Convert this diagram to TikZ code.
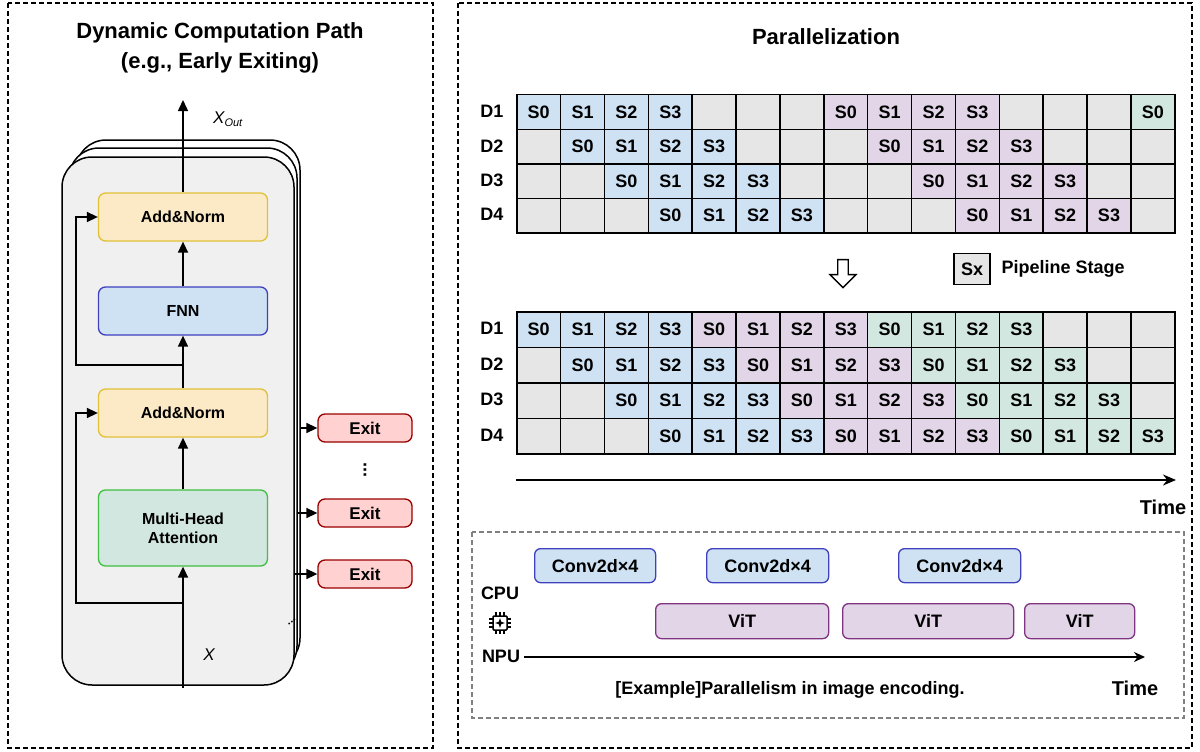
\documentclass[tikz,border=0pt]{standalone}
\usepackage{fontspec}
\setmainfont{Liberation Sans}
\usetikzlibrary{arrows.meta,shapes.arrows}
\definecolor{cblue}{HTML}{CFE2F3}
\definecolor{cpurp}{HTML}{E1D5E7}
\definecolor{cgreen}{HTML}{D2E7DF}
\definecolor{cgray}{HTML}{E6E6E6}
\definecolor{cyel}{HTML}{FCE9C6}
\tikzset{
 panel/.style={draw,dash pattern=on 5pt off 3pt,line width=1.6pt},
 blk/.style={draw,rounded corners=7pt,line width=1.3pt,font=\bfseries\fontsize{16}{19}\selectfont,align=center},
 cell/.style={draw,line width=1.5pt,minimum width=43.87pt,minimum height=34.5pt,inner sep=0,font=\bfseries\fontsize{18}{20}\selectfont,anchor=north west},
 arr/.style={-{Triangle[length=11pt,width=10pt]},line width=1.5pt},
 lbl/.style={font=\bfseries\fontsize{18}{20}\selectfont},
 tbox/.style={draw,rounded corners=6pt,line width=1.3pt,font=\bfseries\fontsize{18}{20}\selectfont,anchor=north west,inner sep=0},
}
\begin{document}
\begin{tikzpicture}[x=1pt,y=-1pt]
\useasboundingbox (0,0) rectangle (1200,752);
% panels
\draw[panel] (8,3) rectangle (433,748);
\draw[panel] (458,3) rectangle (1192,748);
\node[font=\bfseries\fontsize{22}{30}\selectfont,align=center] (lt) at (220,48) {Dynamic Computation Path\\(e.g., Early Exiting)};
\node[font=\bfseries\fontsize{22}{26}\selectfont] (rt) at (826,37) {Parallelization};
% stack
\draw[line width=1.5pt,fill=white,rounded corners=30pt] (76,140) rectangle (300,668);
\draw[line width=1.5pt,fill=white,rounded corners=30pt] (69,148) rectangle (297,676);
\draw[line width=1.5pt,fill=black!6,rounded corners=30pt] (62,157) rectangle (294,685);
\node[font=\bfseries\fontsize{11}{11}\selectfont,rotate=30] (dd) at (292,622) {...};
\node[blk,fill=cyel,draw=yellow!50!brown,minimum width=169pt,minimum height=48pt] (an1) at (183,217) {Add\&Norm};
\node[blk,fill=cblue,draw=blue!50!gray,minimum width=169pt,minimum height=48pt] (fnn) at (183,311) {FNN};
\node[blk,fill=cyel,draw=yellow!50!brown,minimum width=169pt,minimum height=48pt] (an2) at (183,413) {Add\&Norm};
\node[blk,fill=cgreen,draw=green!50!gray,minimum width=169pt,minimum height=76pt] (mha) at (183,528) {Multi-Head\\Attention};
\coordinate (xin) at (183,688);
\coordinate (xout) at (183,100);
\draw[arr] (xin) -- (mha);
\draw[arr] (mha) -- (an2);
\draw[arr] (an2) -- (fnn);
\draw[arr] (fnn) -- (an1);
\draw[arr] (an1) -- (xout);
\coordinate (s1) at (183,603);
\coordinate (s2) at (183,365);
\draw[arr] (s1) -| (76,413) -- (an2.west);
\draw[arr] (s2) -| (76,217) -- (an1.west);
\node[font=\itshape\fontsize{17}{17}\selectfont] (xl) at (209,655) {X};
\node[font=\itshape\fontsize{17}{17}\selectfont] (xo) at (228,119) {X\textsubscript{\fontsize{11}{11}\selectfont Out}};
% exits
\foreach \n/\y/\x in {e1/428/300,e2/513/297,e3/574/294}{
 \node[blk,fill=red!18,draw=red!60!black,minimum width=94pt,minimum height=28pt,font=\bfseries\fontsize{17}{19}\selectfont] (\n) at (365,\y) {Exit};
 \draw[arr] (\x,\y) -- (\n);
}
\node[font=\bfseries\fontsize{18}{18}\selectfont] (vd) at (365,470) {\rotatebox{90}{...}};
% grids
\foreach \d in {1,...,4}{
 \node[lbl] (dl\d) at (492,{94+34.5*(\d-0.5)}) {D\d};
 \node[lbl] (dm\d) at (492,{311+35.5*(\d-0.5)}) {D\d};
}
\foreach \r in {0,...,3}{
 \foreach \c in {0,...,14}{
  \pgfmathtruncatemacro{\a}{\c-\r}
  \def\fc{cgray}\def\tx{}
  \ifnum\a>-1 \ifnum\a<4 \def\fc{cblue}\edef\tx{S\a}\fi\fi
  \pgfmathtruncatemacro{\b}{\c-\r-7}
  \ifnum\b>-1 \ifnum\b<4 \def\fc{cpurp}\edef\tx{S\b}\fi\fi
  \ifnum\r=0 \ifnum\c=14 \def\fc{cgreen}\def\tx{S0}\fi\fi
  \node[cell,fill=\fc] (t\r-\c) at ({516+43.87*\c},{94+34.5*\r}) {\tx};
  \def\fc{cgray}\def\tx{}
  \ifnum\a>-1 \ifnum\a<12
    \pgfmathtruncatemacro{\m}{mod(\a,4)}
    \edef\tx{S\m}
    \ifnum\a<4 \def\fc{cblue}\else\ifnum\a<8 \def\fc{cpurp}\else\def\fc{cgreen}\fi\fi
  \fi\fi
  \node[cell,fill=\fc,minimum height=35.5pt] (b\r-\c) at ({516+43.87*\c},{311+35.5*\r}) {\tx};
 }
}
\node[single arrow,shape border rotate=270,draw,line width=1.4pt,fill=white,minimum height=28pt,minimum width=26pt,single arrow head extend=6pt] (da) at (843,271) {};
\node[draw,line width=1.5pt,fill=cgray,minimum width=36pt,minimum height=31pt,lbl] (leg) at (972,269) {Sx};
\node[lbl,anchor=west] (legt) at (998,269) {Pipeline Stage};
\coordinate (ta) at (516,480); \coordinate (tb) at (1176,480);
\draw[-{Stealth[length=13pt,width=11pt]},line width=2.5pt] (ta) -- (tb);
\node[lbl,font=\bfseries\fontsize{20}{20}\selectfont] (time1) at (1163,507) {Time};
% example box
\draw[panel,draw=gray] (472,532) rectangle (1184,718);
\node[tbox,fill=cblue,draw=blue!50!gray,minimum width=121pt,minimum height=34pt] (c1) at (534,548) {Conv2d×4};
\node[tbox,fill=cblue,draw=blue!50!gray,minimum width=122pt,minimum height=34pt] (c2) at (706,548) {Conv2d×4};
\node[tbox,fill=cblue,draw=blue!50!gray,minimum width=122pt,minimum height=34pt] (c3) at (898,548) {Conv2d×4};
\node[tbox,fill=cpurp,draw=violet!60!gray,minimum width=173pt,minimum height=35pt] (v1) at (655,603) {ViT};
\node[tbox,fill=cpurp,draw=violet!60!gray,minimum width=171pt,minimum height=35pt] (v2) at (842,603) {ViT};
\node[tbox,fill=cpurp,draw=violet!60!gray,minimum width=110pt,minimum height=35pt] (v3) at (1024,603) {ViT};
\node[lbl] (cpu) at (500,593) {CPU};
\node[lbl] (npu) at (501,656) {NPU};
\coordinate (na) at (524,657); \coordinate (nb) at (1145,657);
\draw[-{Stealth[length=11pt,width=10pt]},line width=2.5pt] (na) -- (nb);
\node[lbl] (cap) at (790,690) {[Example]Parallelism in image encoding.};
\node[lbl,font=\bfseries\fontsize{20}{20}\selectfont] (time2) at (1135,688) {Time};
% chip icon
\begin{scope}[shift={(500,623)},line width=1.5pt]
\draw[rounded corners=1pt] (-7,-7) rectangle (7,7);
\foreach \t in {-4,0,4}{
 \draw (\t,-7) -- (\t,-11); \draw (\t,7) -- (\t,11);
 \draw (-7,\t) -- (-11,\t); \draw (7,\t) -- (11,\t);}
\fill (0,-5) -- (1.2,-1.2) -- (5,0) -- (1.2,1.2) -- (0,5) -- (-1.2,1.2) -- (-5,0) -- (-1.2,-1.2) -- cycle;
\end{scope}
\end{tikzpicture}
\end{document}
